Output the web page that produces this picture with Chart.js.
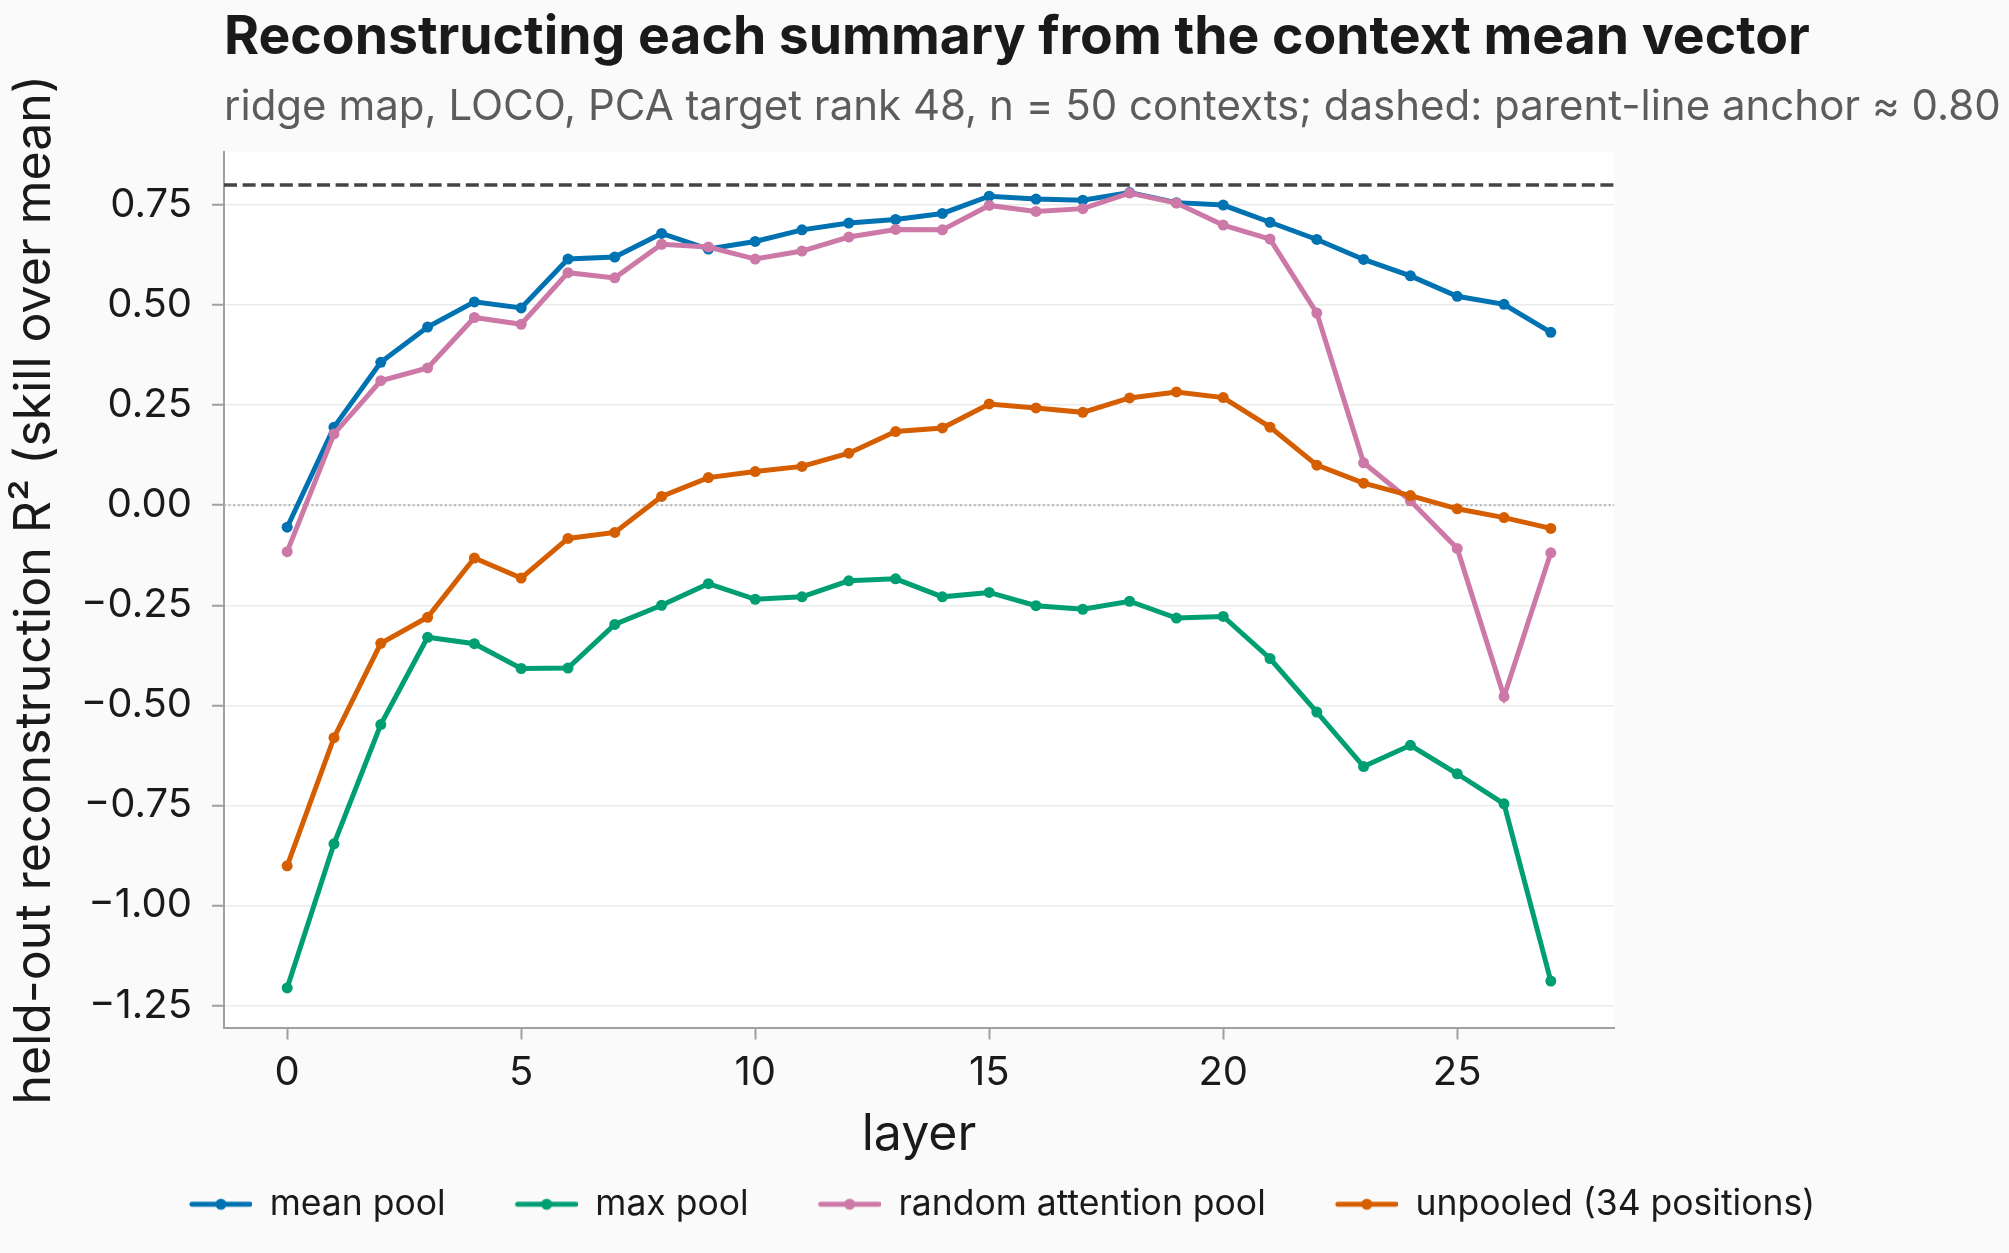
<!DOCTYPE html>
<html>
<head>
<meta charset="utf-8">
<title>Reconstructing each summary from the context mean vector</title>
<script src="https://cdn.jsdelivr.net/npm/chart.js@4.4.1/dist/chart.umd.min.js"></script>
<style>
    html, body { margin: 0; padding: 0; background: #fafafa; }
    canvas { display: block; }
</style>
</head>
<body>
<canvas id="myChart" width="2009" height="1253"></canvas>
<script>

// layer index on the x axis
var layers = [0, 1, 2, 3, 4, 5, 6, 7, 8, 9, 10, 11, 12, 13, 14, 15, 16, 17, 18, 19, 20, 21, 22, 23, 24, 25, 26, 27];

// held-out R2 per layer
var meanPool = [-0.055, 0.195, 0.357, 0.445, 0.508, 0.493, 0.615, 0.620, 0.679, 0.640, 0.659, 0.688, 0.705, 0.714,
                0.729, 0.772, 0.765, 0.762, 0.781, 0.756, 0.750, 0.707, 0.664, 0.614, 0.573, 0.522, 0.502, 0.432];
var maxPool = [-1.206, -0.846, -0.548, -0.330, -0.346, -0.408, -0.407, -0.298, -0.250, -0.196, -0.235, -0.229, -0.189, -0.184,
               -0.229, -0.218, -0.251, -0.260, -0.240, -0.282, -0.278, -0.383, -0.517, -0.653, -0.600, -0.671, -0.746, -1.189];
var randomAttnPool = [-0.116, 0.178, 0.311, 0.343, 0.469, 0.452, 0.581, 0.568, 0.652, 0.645, 0.615, 0.635, 0.670, 0.689,
                      0.688, 0.749, 0.734, 0.741, 0.780, 0.755, 0.700, 0.665, 0.480, 0.106, 0.011, -0.108, -0.478, -0.119];
var unpooled = [-0.901, -0.581, -0.345, -0.280, -0.132, -0.182, -0.083, -0.068, 0.022, 0.069, 0.084, 0.097, 0.130, 0.184,
                0.193, 0.253, 0.243, 0.232, 0.268, 0.283, 0.269, 0.195, 0.100, 0.055, 0.024, -0.009, -0.031, -0.058];

var seriesNames = ["mean pool", "max pool", "random attention pool", "unpooled (34 positions)"];
var seriesColors = ["#0072B2", "#009E73", "#CC79A7", "#D55E00"];

var xTicks = [0, 5, 10, 15, 20, 25];
var yTicks = [-1.25, -1.0, -0.75, -0.5, -0.25, 0, 0.25, 0.5, 0.75];

var anchorValue = 0.80;   // dashed parent-line anchor
var zeroValue = 0;        // dotted reference

var xMin = -1.35, xMax = 28.35;
var yMin = -1.305, yMax = 0.8825;

var FONT = "Inter";


function toPoints(values) {
    var pts = [];
    for (var i = 0; i < layers.length; i++) {
        pts.push({ x: layers[i], y: values[i] });
    }
    return pts;
}

function fmtY(v) {
    var s = Math.abs(v).toFixed(2);
    return v < 0 ? "\u2212" + s : s;
}

// legend marker: blank lead-in (spacing), then a line with a dot in the middle
function legendMarker(color) {
    var c = document.createElement("canvas");
    c.width = 112;
    c.height = 16;
    var g = c.getContext("2d");
    g.strokeStyle = color;
    g.lineWidth = 5;
    g.lineCap = "round";
    g.beginPath();
    g.moveTo(52, 8);
    g.lineTo(110, 8);
    g.stroke();
    g.fillStyle = color;
    g.beginPath();
    g.arc(81, 8, 5.5, 0, Math.PI * 2);
    g.fill();
    return c;
}

var allSeries = [meanPool, maxPool, randomAttnPool, unpooled];
var markers = seriesColors.map(legendMarker);

var datasets = [];
for (var i = 0; i < allSeries.length; i++) {
    datasets.push({
        label: seriesNames[i],
        data: toPoints(allSeries[i]),
        borderColor: seriesColors[i],
        backgroundColor: seriesColors[i],
        pointBackgroundColor: seriesColors[i],
        pointBorderWidth: 0,
        pointRadius: 5.5,
        borderWidth: 5,
        tension: 0,
        fill: false,
        order: allSeries.length - 1 - i   // later series on top, like the original
    });
}

var decorations = {
    id: "decorations",
    beforeDraw: function (chart) {
        var ctx = chart.ctx, a = chart.chartArea;
        ctx.save();
        ctx.fillStyle = "#fafafa";
        ctx.fillRect(0, 0, chart.width, chart.height);
        ctx.fillStyle = "#ffffff";
        ctx.fillRect(a.left, a.top, a.right - a.left, a.bottom - a.top);
        ctx.restore();
    },
    beforeDatasetsDraw: function (chart) {
        var ctx = chart.ctx, a = chart.chartArea, y = chart.scales.y;
        ctx.save();
        // zero line, dotted
        var y0 = y.getPixelForValue(zeroValue);
        ctx.strokeStyle = "#b4b4b4";
        ctx.lineWidth = 2;
        ctx.setLineDash([2, 2.6]);
        ctx.beginPath();
        ctx.moveTo(a.left, y0);
        ctx.lineTo(a.right, y0);
        ctx.stroke();
        // anchor line, dashed
        var ya = y.getPixelForValue(anchorValue);
        ctx.strokeStyle = "#444444";
        ctx.lineWidth = 3.5;
        ctx.setLineDash([13, 5.6]);
        ctx.beginPath();
        ctx.moveTo(a.left, ya);
        ctx.lineTo(a.right, ya);
        ctx.stroke();
        ctx.restore();
    },
    afterDraw: function (chart) {
        var ctx = chart.ctx, a = chart.chartArea;
        ctx.save();
        ctx.textAlign = "left";
        ctx.textBaseline = "alphabetic";
        ctx.fillStyle = "#1a1a1a";
        ctx.font = "bold 53.5px " + FONT;
        ctx.fillText("Reconstructing each summary from the context mean vector", a.left, 54);
        ctx.fillStyle = "#5c5c5c";
        ctx.font = "42px " + FONT;
        ctx.fillText("ridge map, LOCO, PCA target rank 48, n = 50 contexts; dashed: parent-line anchor \u2248 0.80", a.left, 120);
        ctx.restore();
    }
};

const el = document.getElementById("myChart");

const config = {
    type: "line",
    data: { datasets: datasets },
    plugins: [decorations],
    options: {
        responsive: false,
        animation: false,
        devicePixelRatio: 1,
        layout: { padding: { top: 152, left: 0, right: 54, bottom: 21 } },
        plugins: {
            tooltip: { enabled: false },
            title: { display: false },
            legend: {
                display: true,
                position: "bottom",
                align: "center",
                labels: {
                    usePointStyle: true,
                    pointStyleWidth: 112,
                    padding: 20,
                    color: "#1a1a1a",
                    font: { family: FONT, size: 35.5 },
                    generateLabels: function (chart) {
                        return seriesNames.map(function (name, i) {
                            return {
                                text: name,
                                pointStyle: markers[i],
                                fillStyle: seriesColors[i],
                                strokeStyle: seriesColors[i],
                                lineWidth: 0,
                                hidden: false,
                                datasetIndex: i,
                                fontColor: "#1a1a1a"
                            };
                        });
                    }
                }
            }
        },
        scales: {
            x: {
                type: "linear",
                min: xMin,
                max: xMax,
                afterBuildTicks: function (s) { s.ticks = xTicks.map(function (v) { return { value: v }; }); },
                afterFit: function (s) { s.height = 139; },
                ticks: {
                    font: { family: FONT, size: 40 },
                    color: "#1a1a1a",
                    padding: 9,
                    maxRotation: 0,
                    autoSkip: false,
                    callback: function (v) { return String(v); }
                },
                grid: { color: "rgba(0,0,0,0)", tickColor: "#a0a0a0", tickLength: 12, tickWidth: 2 },
                border: { color: "#a0a0a0", width: 2 },
                title: {
                    display: true,
                    text: "layer",
                    color: "#1a1a1a",
                    font: { family: FONT, size: 50 },
                    padding: { top: 0, bottom: 2 }
                }
            },
            y: {
                type: "linear",
                position: "left",
                min: yMin,
                max: yMax,
                afterBuildTicks: function (s) { s.ticks = yTicks.map(function (v) { return { value: v }; }); },
                afterFit: function (s) { s.width = 224; },
                ticks: {
                    font: { family: FONT, size: 40 },
                    color: "#1a1a1a",
                    padding: 20,
                    autoSkip: false,
                    callback: function (v) { return fmtY(v); }
                },
                grid: { color: "#ebebeb", lineWidth: 1.5, tickColor: "#a0a0a0", tickLength: 12, tickWidth: 2 },
                border: { color: "#a0a0a0", width: 2 },
                title: {
                    display: true,
                    text: "held-out reconstruction R\u00b2 (skill over mean)",
                    color: "#1a1a1a",
                    font: { family: FONT, size: 50 },
                    padding: { top: 5, bottom: 0 }
                }
            },
            yRight: {
                type: "linear",
                position: "right",
                display: true,
                afterFit: function (s) { s.width = 341; },
                ticks: { display: false },
                grid: { display: false },
                border: { display: false }
            }
        }
    }
};

new Chart(el, config);
</script>
</body>
</html>
